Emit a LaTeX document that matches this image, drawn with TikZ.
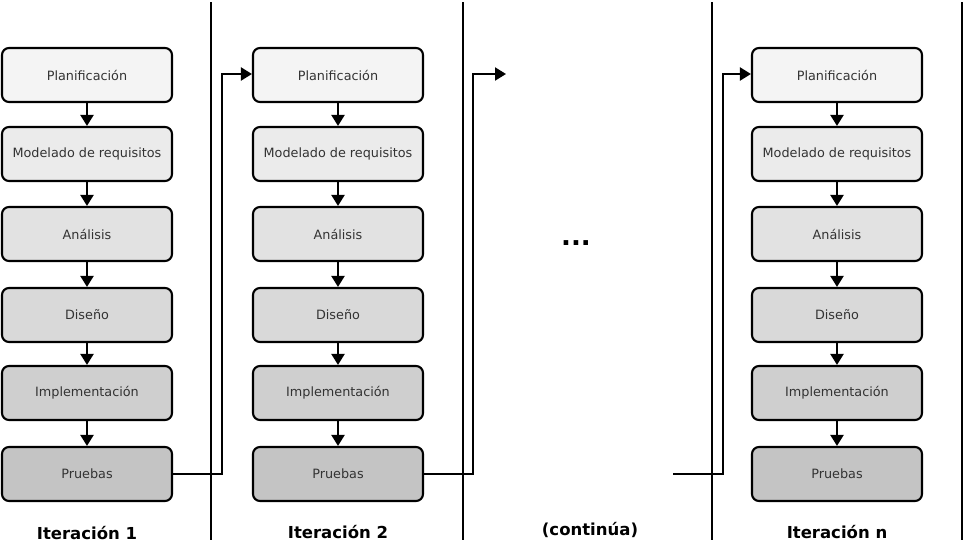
\documentclass[tikz,border=0pt]{standalone}
\usepackage{fontspec}
\setmainfont{DejaVu Sans}
\usetikzlibrary{arrows.meta}
\definecolor{fillA}{HTML}{F4F4F4}
\definecolor{fillB}{HTML}{EBEBEB}
\definecolor{fillC}{HTML}{E2E2E2}
\definecolor{fillD}{HTML}{D9D9D9}
\definecolor{fillE}{HTML}{CFCFCF}
\definecolor{fillF}{HTML}{C4C4C4}
\definecolor{txt}{HTML}{333333}
\tikzset{
  stage/.style={draw, line width=2.1pt, rounded corners=7pt, minimum width=170pt,
    minimum height=54pt, inner sep=0pt, font=\fontsize{12.8}{15}\selectfont, text=txt},
  flow/.style={line width=2.1pt, -{Triangle[length=11pt,width=13pt]}},
  divider/.style={line width=2.1pt},
  itlabel/.style={font=\bfseries\fontsize{16.5}{19}\selectfont, text=black}
}
\begin{document}
\begin{tikzpicture}[x=1pt,y=-1pt]
  \useasboundingbox (0,0) rectangle (964,546);
  \fill[white] (0,0) rectangle (964,546);

  % column dividers
  \foreach \xx in {211,463,712,962}{
    \draw[divider] (\xx,2) -- (\xx,540);
  }

  % the three columns of stages
  \foreach \col/\cx in {a/87,b/338,c/837}{
    \node[stage, fill=fillA] (\col1) at (\cx,75) {Planificación};
    \node[stage, fill=fillB] (\col2) at (\cx,154) {Modelado de requisitos};
    \node[stage, fill=fillC] (\col3) at (\cx,234) {Análisis};
    \node[stage, fill=fillD] (\col4) at (\cx,315) {Diseño};
    \node[stage, fill=fillE] (\col5) at (\cx,393) {Implementación};
    \node[stage, fill=fillF] (\col6) at (\cx,474) {Pruebas};
    \foreach \i/\j in {1/2,2/3,3/4,4/5,5/6}{
      \draw[flow] (\col\i.south) -- (\col\j.north);
    }
  }

  % links from one iteration to the next
  \coordinate (cont) at (506,74);
  \coordinate (resume) at (673,474);
  \draw[flow] (a6.east) -- (222,474) -- (222,74) -- (b1.west |- 0,74);
  \draw[flow] (b6.east) -- (473,474) -- (473,74) -- (cont);
  \draw[flow] (resume) -- (723,474) -- (723,74) -- (c1.west |- 0,74);

  \node[font=\bfseries\fontsize{26}{28}\selectfont] (dots) at (576,243) {...};

  \node[itlabel] (l1) at (87,533) {Iteración 1};
  \node[itlabel] (l2) at (338,532) {Iteración 2};
  \node[itlabel] (l3) at (590,530) {(continúa)};
  \node[itlabel] (l4) at (837,532) {Iteración n};
\end{tikzpicture}
\end{document}
